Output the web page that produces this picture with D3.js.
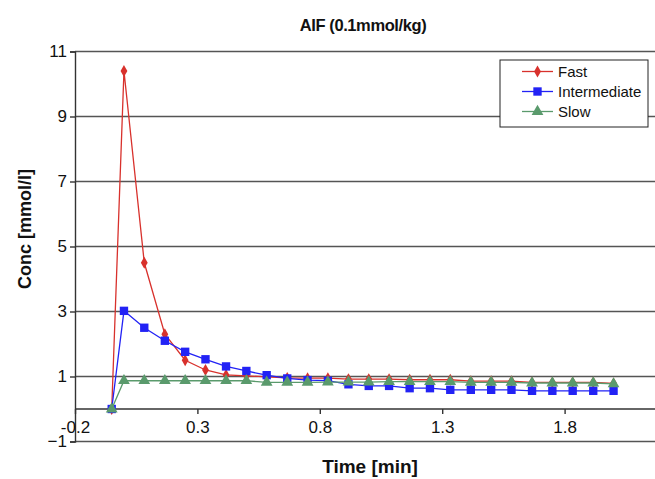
<!DOCTYPE html>
<html>
<head>
<meta charset="utf-8">
<script src="https://cdn.jsdelivr.net/npm/d3@7"></script>
<style>
  body { margin: 0; background: #fff; }
  svg { display: block; font-family: "Liberation Sans", Arial, sans-serif; }
</style>
</head>
<body>
<svg width="655" height="479"></svg>
<script>
// time in minutes
const time = [-0.05, 0, 0.083, 0.167, 0.25, 0.333, 0.417, 0.5, 0.583, 0.667, 0.75, 0.833, 0.917,
    1.0, 1.083, 1.167, 1.25, 1.333, 1.417, 1.5, 1.583, 1.667, 1.75, 1.833, 1.917, 2.0];
const fast = [0, 10.4, 4.5, 2.3, 1.5, 1.2, 1.05, 1.02, 0.99, 0.96, 0.95, 0.95, 0.92,
    0.92, 0.92, 0.9, 0.9, 0.9, 0.86, 0.86, 0.86, 0.82, 0.82, 0.82, 0.82, 0.79];
const intermediate = [0, 3.02, 2.5, 2.1, 1.76, 1.53, 1.31, 1.17, 1.04, 0.94, 0.89, 0.87, 0.76,
    0.71, 0.71, 0.64, 0.64, 0.59, 0.59, 0.59, 0.59, 0.56, 0.56, 0.56, 0.56, 0.56];
const slow = [0, 0.87, 0.87, 0.87, 0.87, 0.87, 0.87, 0.87, 0.82, 0.82, 0.82, 0.83, 0.83,
    0.83, 0.84, 0.84, 0.84, 0.84, 0.82, 0.82, 0.82, 0.8, 0.8, 0.8, 0.8, 0.77];
const seriesNames = ["Fast", "Intermediate", "Slow"];
const xTicks = [-0.2, 0.3, 0.8, 1.3, 1.8];
const yTicks = [-1, 1, 3, 5, 7, 9, 11];

const colors = { Fast: "#d8312c", Intermediate: "#2222f5", Slow: "#5a9a6c" };
const symbols = { Fast: d3.symbolDiamond, Intermediate: d3.symbolSquare, Slow: d3.symbolTriangle };
const symSize = { Fast: 40, Intermediate: 70, Slow: 60 };

const svg = d3.select("svg");

// plot area runs past the right edge of the picture
const x = d3.scaleLinear().domain([-0.2, 2.3]).range([75, 687]);
const y = d3.scaleLinear().domain([-1, 11]).range([441.5, 51.5]);

// horizontal gridlines
svg.append("g")
    .selectAll("line")
    .data(yTicks.filter(d => d > 0))
    .join("line")
    .attr("x1", x(-0.2)).attr("x2", 660)
    .attr("y1", d => y(d)).attr("y2", d => y(d))
    .attr("stroke", "#555").attr("stroke-width", 1.6);

// bottom frame line at -1
svg.append("line")
    .attr("x1", x(-0.2)).attr("x2", 660)
    .attr("y1", y(-1)).attr("y2", y(-1))
    .attr("stroke", "#555").attr("stroke-width", 1.6);

// y axis
const yAxis = svg.append("g")
    .attr("transform", `translate(${x(-0.2)},0)`)
    .call(d3.axisLeft(y).tickValues(yTicks).tickSize(5).tickFormat(d3.format("d")));
yAxis.select(".domain").attr("stroke", "#333").attr("stroke-width", 1.4);
yAxis.selectAll(".tick line").attr("stroke", "#333").attr("stroke-width", 1.4);
yAxis.selectAll("text").attr("font-size", 17).attr("fill", "#111").attr("x", -8);

// x axis crossing at y = 0
const xAxis = svg.append("g")
    .attr("transform", `translate(0,${y(0)})`)
    .call(d3.axisBottom(x).tickValues(xTicks).tickSize(5).tickSizeOuter(0).tickFormat(d => d.toFixed(1)));
xAxis.select(".domain").attr("stroke", "#333").attr("stroke-width", 1.4)
    .attr("d", `M${x(-0.2)},0H660`);
xAxis.selectAll(".tick line").attr("stroke", "#333").attr("stroke-width", 1.4);
xAxis.selectAll("text").attr("font-size", 17).attr("fill", "#111").attr("y", 12);

// series
const series = [
    { name: "Fast", values: fast },
    { name: "Intermediate", values: intermediate },
    { name: "Slow", values: slow }
];

const line = d3.line()
    .x((d, i) => x(time[i]))
    .y(d => y(d));

series.forEach(s => {
    const g = svg.append("g");
    g.append("path")
        .datum(s.values)
        .attr("fill", "none")
        .attr("stroke", colors[s.name])
        .attr("stroke-width", 1.3)
        .attr("d", line);
    g.selectAll("path.pt")
        .data(s.values)
        .join("path")
        .attr("class", "pt")
        .attr("transform", (d, i) => `translate(${x(time[i])},${y(d)})`)
        .attr("d", d3.symbol().type(symbols[s.name]).size(symSize[s.name]))
        .attr("fill", colors[s.name]);
});

// legend
const legend = svg.append("g");
legend.append("rect")
    .attr("x", 500).attr("y", 60).attr("width", 148).attr("height", 67)
    .attr("fill", "#fff").attr("stroke", "#222").attr("stroke-width", 1);
seriesNames.forEach((name, i) => {
    const ly = 71.5 + i * 20;
    legend.append("line")
        .attr("x1", 522).attr("x2", 553).attr("y1", ly).attr("y2", ly)
        .attr("stroke", colors[name]).attr("stroke-width", 1.3);
    legend.append("path")
        .attr("transform", `translate(537.5,${ly})`)
        .attr("d", d3.symbol().type(symbols[name]).size(symSize[name]))
        .attr("fill", colors[name]);
    legend.append("text")
        .attr("x", 558).attr("y", ly + 5.5)
        .attr("font-size", 15).attr("fill", "#111")
        .text(name);
});

// titles
svg.append("text")
    .attr("x", 363).attr("y", 31)
    .attr("text-anchor", "middle")
    .attr("font-size", 16.5).attr("font-weight", "bold").attr("fill", "#111")
    .attr("letter-spacing", -0.4)
    .text("AIF (0.1mmol/kg)");

svg.append("text")
    .attr("transform", "translate(31,229) rotate(-90)")
    .attr("text-anchor", "middle")
    .attr("font-size", 18).attr("font-weight", "bold").attr("fill", "#111")
    .text("Conc [mmol/l]");

svg.append("text")
    .attr("x", 370).attr("y", 473)
    .attr("text-anchor", "middle")
    .attr("font-size", 19).attr("font-weight", "bold").attr("fill", "#111")
    .text("Time [min]");
</script>
</body>
</html>
